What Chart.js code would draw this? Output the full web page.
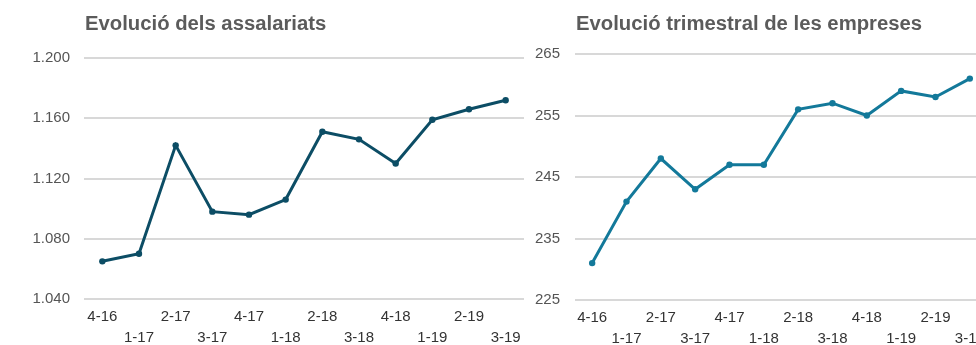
<!DOCTYPE html>
<html lang="ca">
<head>
<meta charset="utf-8">
<title>Evolució dels assalariats i de les empreses</title>
<script src="https://cdn.jsdelivr.net/npm/chart.js@4.4.1/dist/chart.umd.min.js"></script>
<style>
  html, body { margin: 0; padding: 0; background: #fff; }
  body { width: 976px; height: 345px; overflow: hidden; position: relative; }
  .panel { position: absolute; top: 0; height: 345px; }
  #wrapA { left: 0; width: 528px; }
  #wrapB { left: 500px; width: 492px; }
</style>
</head>
<body>
<div class="panel" id="wrapA"><canvas id="chartA"></canvas></div>
<div class="panel" id="wrapB"><canvas id="chartB"></canvas></div>
<script>
// Quarters (trimestre-any)
const quarters = ['4-16', '1-17', '2-17', '3-17', '4-17', '1-18', '2-18', '3-18', '4-18', '1-19', '2-19', '3-19'];

// Assalariats (milers)
const assalariats = [1065, 1070, 1142, 1098, 1096, 1106, 1151, 1146, 1130, 1159, 1166, 1172];
const assalariatsTicks = [1040, 1080, 1120, 1160, 1200];

// Empreses (milers)
const empreses = [231, 241, 248, 243, 247, 247, 256, 257, 255, 259, 258, 261];
const empresesTicks = [225, 235, 245, 255, 265];

const titleA = 'Evolució dels assalariats';
const titleB = 'Evolució trimestral de les empreses';

// Staggered category labels: even quarters on the first row, odd on the second
const staggered = quarters.map((q, i) => (i % 2 === 0 ? [q, ''] : ['', q]));

// Thousands separator with a dot
function fmtThousands(v) {
  return String(Math.round(v)).replace(/\B(?=(\d{3})+(?!\d))/g, '.');
}

// Draws the chart heading aligned with the left edge of the plot area
const headingPlugin = {
  id: 'heading',
  afterDraw(chart, args, opts) {
    const ctx = chart.ctx;
    ctx.save();
    ctx.font = 'bold 20.3px "Liberation Sans", Arial, sans-serif';
    ctx.fillStyle = '#5b5b5b';
    ctx.textBaseline = 'alphabetic';
    ctx.textAlign = 'left';
    ctx.fillText(opts.text, chart.chartArea.left + 1, 30);
    ctx.restore();
  }
};

function buildChart(canvasId, values, ticks, color, axisWidth, labelPad, heading, topPad, xAxisHeight) {
  const tickSet = ticks.slice();
  return new Chart(document.getElementById(canvasId), {
    type: 'line',
    data: {
      labels: staggered,
      datasets: [{
        data: values,
        borderColor: color,
        backgroundColor: color,
        borderWidth: 3,
        pointRadius: 3.2,
        pointHoverRadius: 4,
        pointBackgroundColor: color,
        pointBorderWidth: 0,
        tension: 0,
        fill: false
      }]
    },
    options: {
      responsive: true,
      maintainAspectRatio: false,
      animation: false,
      layout: { padding: { top: topPad, right: 0, bottom: 0, left: 0 } },
      plugins: {
        legend: { display: false },
        tooltip: { enabled: false },
        heading: { text: heading }
      },
      scales: {
        x: {
          offset: true,
          border: { display: false },
          grid: { display: false, drawTicks: false },
          afterFit(scale) { scale.height = xAxisHeight; },
          ticks: {
            autoSkip: false,
            maxRotation: 0,
            minRotation: 0,
            padding: 7,
            color: '#333',
            font: { family: '"Liberation Sans", Arial, sans-serif', size: 15, lineHeight: 1.4 }
          }
        },
        y: {
          min: tickSet[0],
          max: tickSet[tickSet.length - 1],
          border: { display: false },
          grid: { color: '#d8d8d8', lineWidth: 2, drawTicks: false },
          afterBuildTicks(scale) {
            scale.ticks = tickSet.map(v => ({ value: v }));
          },
          afterFit(scale) { scale.width = axisWidth; },
          ticks: {
            padding: labelPad,
            color: '#555',
            font: { family: '"Liberation Sans", Arial, sans-serif', size: 15 },
            callback: v => fmtThousands(v)
          }
        }
      }
    },
    plugins: [headingPlugin]
  });
}

buildChart('chartA', assalariats, assalariatsTicks, '#0c4d65', 84, 14, titleA, 58, 46);
buildChart('chartB', empreses, empresesTicks, '#13799a', 75, 15, titleB, 54, 45);
</script>
</body>
</html>
